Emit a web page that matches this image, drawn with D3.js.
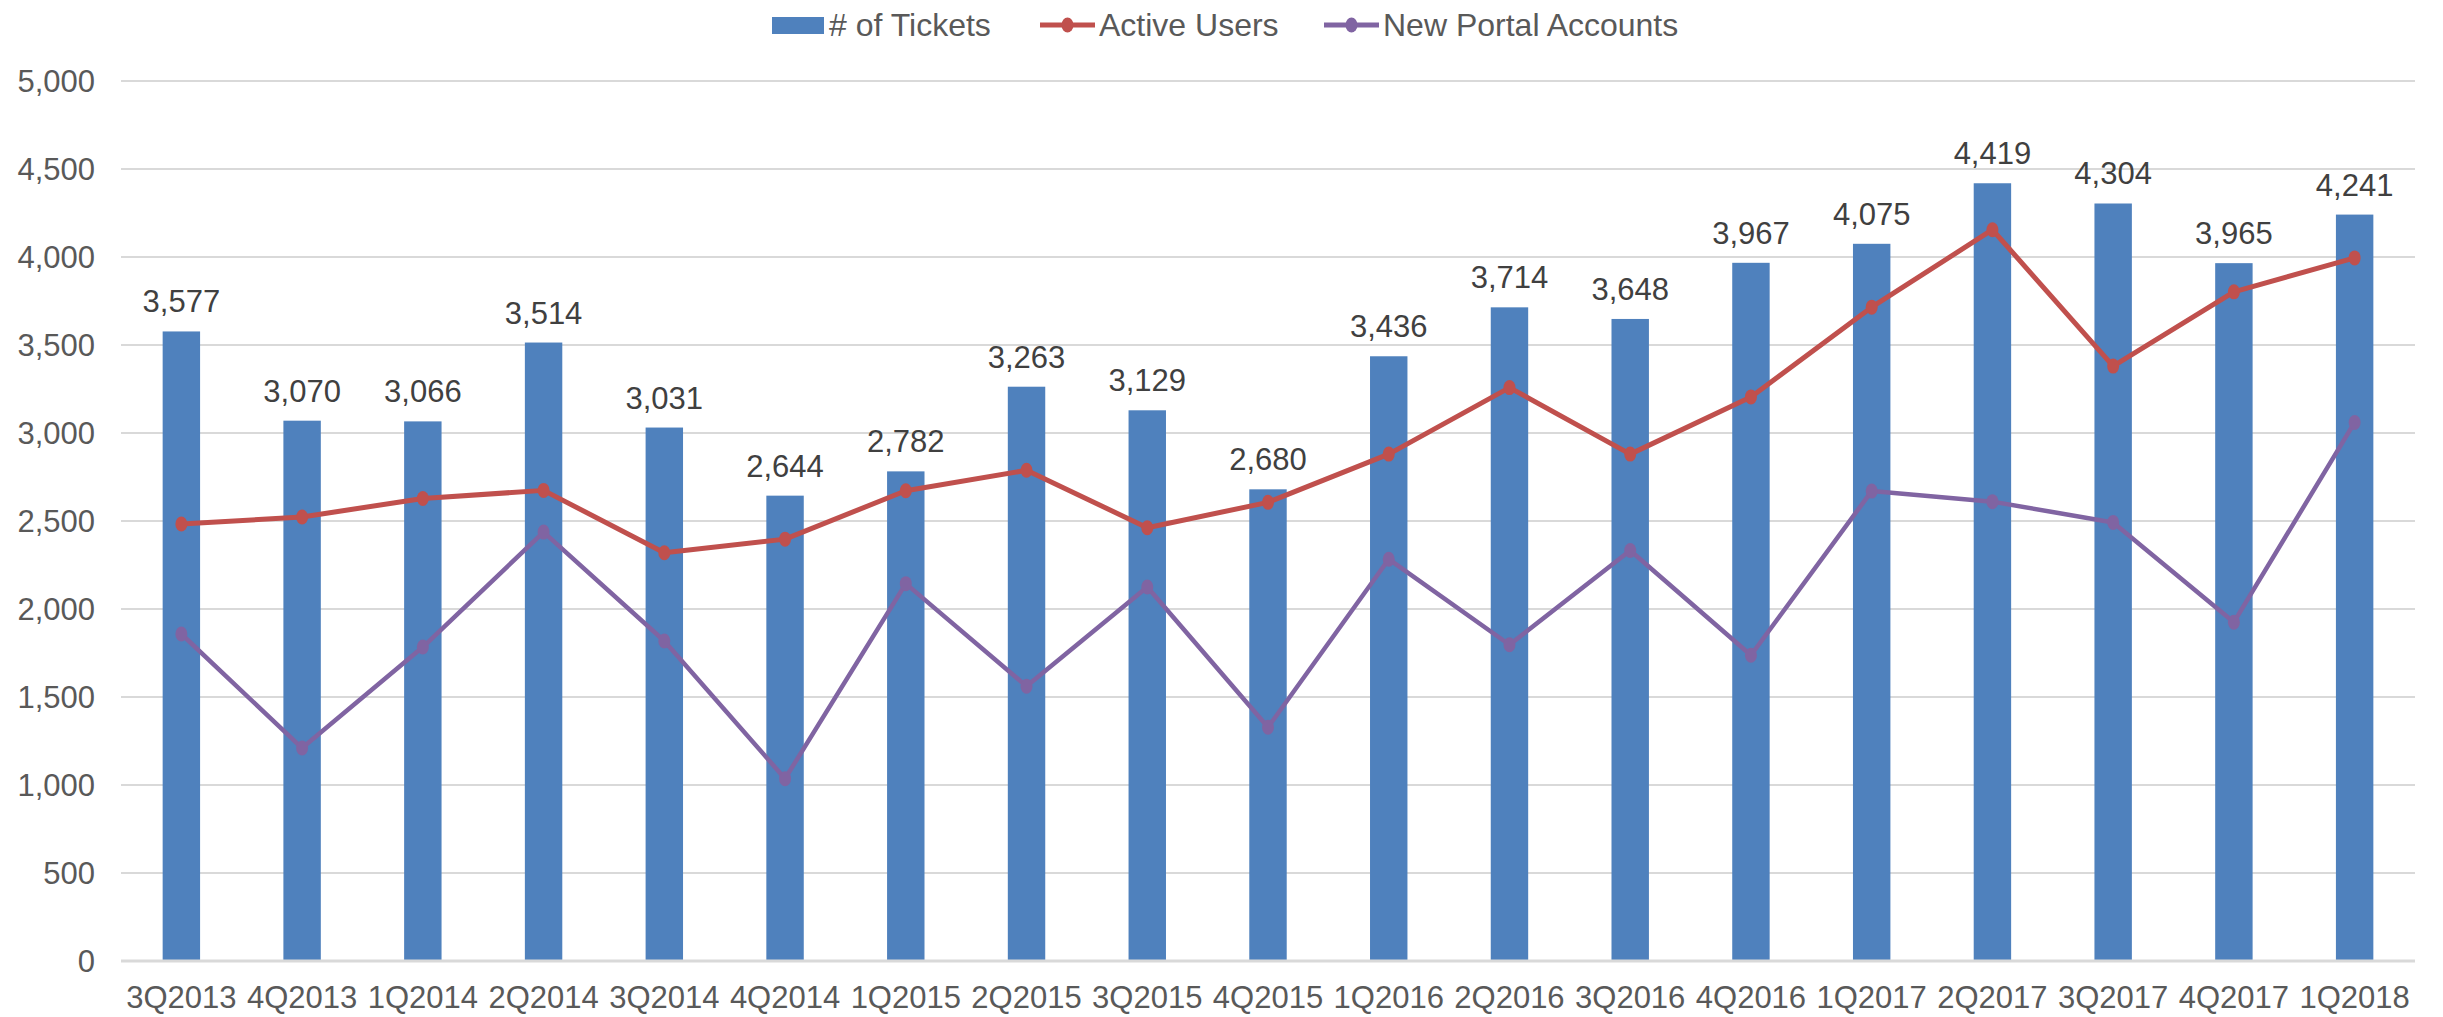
<!DOCTYPE html>
<html>
<head>
<meta charset="utf-8">
<script src="https://cdn.jsdelivr.net/npm/d3@7"></script>
<style>
  body { margin: 0; background: #fff; }
  svg text { font-family: "Liberation Sans", Arial, sans-serif; }
</style>
</head>
<body>
<div id="chart"></div>
<script>
var quarters = ['3Q2013','4Q2013','1Q2014','2Q2014','3Q2014','4Q2014','1Q2015','2Q2015','3Q2015','4Q2015',
                '1Q2016','2Q2016','3Q2016','4Q2016','1Q2017','2Q2017','3Q2017','4Q2017','1Q2018'];
var tickets = [3577,3070,3066,3514,3031,2644,2782,3263,3129,2680,3436,3714,3648,3967,4075,4419,4304,3965,4241];
var activeUsers = [2483,2523,2628,2674,2320,2397,2672,2788,2462,2606,2880,3258,2880,3205,3715,4155,3380,3802,3995];
var newPortalAccounts = [1858,1210,1784,2437,1818,1036,2144,1561,2125,1328,2283,1797,2332,1737,2670,2610,2492,1925,3060];
var yTicks = [0,500,1000,1500,2000,2500,3000,3500,4000,4500,5000];

var width = 2443, height = 1017,
    marginLeft = 121, marginRight = 28,
    marginTop = 81, marginBottom = 56;

var colors = { bar: '#4F81BD', active: '#C0504D', portal: '#8064A2' };

var svg = d3.select('#chart')
  .append('svg')
  .attr('width', width)
  .attr('height', height);

var x = d3.scaleBand()
  .domain(quarters)
  .range([marginLeft, width - marginRight])
  .padding(0);

var y = d3.scaleLinear()
  .domain([0, 5000])
  .range([height - marginBottom, marginTop]);

var fmt = d3.format(',');
var barWidth = x.bandwidth() * 0.31;
var cx = function (d, i) { return x(quarters[i]) + x.bandwidth() / 2; };

// gridlines
svg.append('g')
  .selectAll('line')
  .data(yTicks.filter(function (d) { return d > 0; })).enter()
  .append('line')
  .attr('x1', marginLeft)
  .attr('x2', width - marginRight)
  .attr('y1', function (d) { return y(d); })
  .attr('y2', function (d) { return y(d); })
  .attr('stroke', '#D9D9D9')
  .attr('stroke-width', 2);

// y labels
svg.append('g')
  .selectAll('text')
  .data(yTicks).enter()
  .append('text')
  .attr('x', 95)
  .attr('y', function (d) { return y(d); })
  .attr('dy', '0.35em')
  .attr('text-anchor', 'end')
  .attr('font-size', 31)
  .attr('fill', '#595959')
  .text(fmt);

// bars
svg.append('g')
  .selectAll('rect')
  .data(tickets).enter()
  .append('rect')
  .attr('x', function (d, i) { return cx(d, i) - barWidth / 2; })
  .attr('y', function (d) { return y(d); })
  .attr('width', barWidth)
  .attr('height', function (d) { return y(0) - y(d); })
  .attr('fill', colors.bar);

// axis baseline
svg.append('line')
  .attr('x1', marginLeft)
  .attr('x2', width - marginRight)
  .attr('y1', y(0))
  .attr('y2', y(0))
  .attr('stroke', '#D9D9D9')
  .attr('stroke-width', 3);

// bar value labels
svg.append('g')
  .selectAll('text')
  .data(tickets).enter()
  .append('text')
  .attr('x', cx)
  .attr('y', function (d) { return y(d) - 19; })
  .attr('text-anchor', 'middle')
  .attr('font-size', 31)
  .attr('fill', '#404040')
  .text(fmt);

// x labels
svg.append('g')
  .selectAll('text')
  .data(quarters).enter()
  .append('text')
  .attr('x', function (d) { return x(d) + x.bandwidth() / 2; })
  .attr('y', 1008)
  .attr('text-anchor', 'middle')
  .attr('font-size', 31)
  .attr('fill', '#595959')
  .text(function (d) { return d; });

// lines
function drawLine(values, color, strokeWidth) {
  var line = d3.line()
    .x(function (d, i) { return cx(d, i); })
    .y(function (d) { return y(d); });

  var g = svg.append('g');
  g.append('path')
    .datum(values)
    .attr('d', line)
    .attr('fill', 'none')
    .attr('stroke', color)
    .attr('stroke-width', strokeWidth)
    .attr('stroke-linejoin', 'round');

  g.selectAll('ellipse')
    .data(values).enter()
    .append('ellipse')
    .attr('cx', cx)
    .attr('cy', function (d) { return y(d); })
    .attr('rx', 6)
    .attr('ry', 7.5)
    .attr('fill', color);
}

drawLine(activeUsers, colors.active, 5);
drawLine(newPortalAccounts, colors.portal, 4.5);

// legend
var legend = svg.append('g').attr('font-size', 32).attr('fill', '#595959');

legend.append('rect')
  .attr('x', 772).attr('y', 17)
  .attr('width', 52).attr('height', 17)
  .attr('fill', colors.bar);
legend.append('text').attr('x', 829).attr('y', 36).text('# of Tickets');

[{ x: 1040, label: 'Active Users', color: colors.active },
 { x: 1324, label: 'New Portal Accounts', color: colors.portal }].forEach(function (item) {
  legend.append('line')
    .attr('x1', item.x).attr('x2', item.x + 55)
    .attr('y1', 25).attr('y2', 25)
    .attr('stroke', item.color)
    .attr('stroke-width', 5);
  legend.append('ellipse')
    .attr('cx', item.x + 27.5).attr('cy', 25)
    .attr('rx', 6).attr('ry', 7.5)
    .attr('fill', item.color);
  legend.append('text')
    .attr('x', item.x + 59).attr('y', 36)
    .text(item.label);
});
</script>
</body>
</html>
